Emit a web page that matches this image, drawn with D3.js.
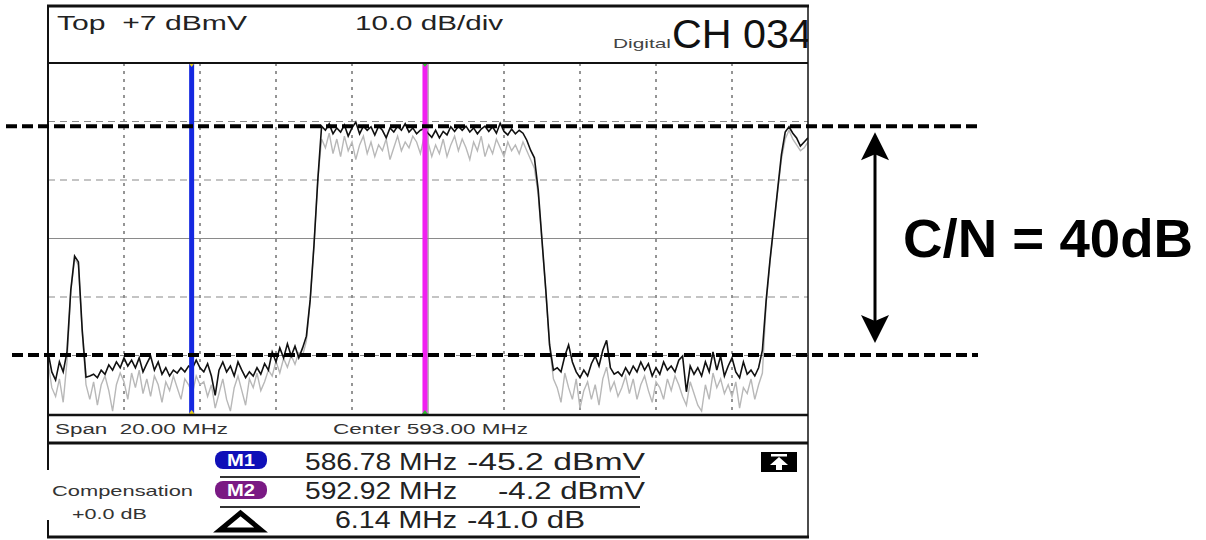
<!DOCTYPE html>
<html>
<head>
<meta charset="utf-8">
<script src="https://cdn.jsdelivr.net/npm/d3@7"></script>
<style>
  body { margin: 0; background: #fff; }
  text { font-family: "Liberation Sans", Arial, sans-serif; }
</style>
</head>
<body>
<div id="chart"></div>
<script>
// sweep: 583..603 MHz, one reading every 0.1 MHz
const freqStart = 583, freqStep = 0.1;

const blackTrace = [
  -42.4, -45.8, -47.2, -44.1, -45.8, -42.4, -31.8, -26.0, -27.0, -38.6,
  -46.7, -46.5, -46.2, -46.8, -45.5, -46.2, -44.6, -45.5, -44.1, -45.1,
  -43.4, -44.8, -43.8, -45.1, -43.4, -45.8, -44.4, -43.1, -45.5, -44.1,
  -46.2, -45.1, -46.5, -45.5, -46.0, -45.1, -45.8, -44.8, -45.2, -43.8,
  -45.1, -45.8, -44.4, -46.5, -49.8, -45.5, -44.1, -45.8, -44.8, -46.5,
  -44.1, -45.5, -46.8, -45.8, -46.5, -45.1, -46.2, -44.4, -45.5, -42.4,
  -44.1, -41.7, -43.4, -41.0, -43.1, -41.4, -43.4, -41.7, -39.7, -33.5,
  -24.1, -13.0, -3.8, -4.5, -3.4, -5.1, -4.1, -4.8, -3.6, -5.5,
  -4.1, -3.1, -5.1, -3.8, -4.5, -3.9, -5.3, -3.8, -4.5, -5.8,
  -4.1, -4.8, -3.8, -4.5, -3.4, -4.8, -4.1, -5.1, -4.5, -4.2,
  -5.0, -5.7, -4.5, -5.8, -4.7, -5.3, -3.9, -4.7, -3.8, -4.5,
  -3.8, -4.8, -4.1, -5.1, -4.3, -3.8, -4.7, -3.9, -5.0, -3.3,
  -4.7, -5.3, -4.3, -5.1, -4.5, -5.0, -6.2, -7.9, -9.2, -14.7,
  -23.3, -31.8, -41.2, -45.5, -45.1, -45.8, -43.1, -41.2, -44.1, -45.8,
  -46.8, -45.5, -46.5, -44.4, -43.1, -44.8, -42.1, -40.4, -45.1, -46.2,
  -45.8, -46.5, -45.1, -46.2, -44.8, -45.8, -44.1, -45.5, -44.4, -46.5,
  -45.1, -46.2, -44.1, -45.5, -44.8, -45.8, -43.8, -43.1, -49.2, -44.8,
  -46.2, -45.1, -46.5, -44.1, -45.8, -42.4, -45.5, -43.1, -46.5, -44.8,
  -43.4, -45.8, -46.8, -44.1, -46.2, -45.5, -46.5, -45.1, -42.1, -33.5,
  -26.7, -20.7, -14.7, -8.7, -4.8, -3.9, -5.0, -5.8, -7.2, -6.5,
  -5.8
];

const grayTrace = [
  -44.0, -48.5, -50.0, -47.0, -51.0, -44.0, -32.0, -26.5, -27.5, -39.0,
  -48.0, -50.5, -47.5, -51.5, -48.0, -46.5, -49.0, -52.5, -48.0, -46.0,
  -47.5, -50.5, -46.0, -48.5, -45.5, -49.5, -47.0, -50.0, -46.5, -48.0,
  -51.0, -47.5, -49.0, -46.5, -48.5, -50.5, -47.0, -48.0, -49.5, -46.5,
  -48.0, -47.5, -50.0, -48.0, -52.0, -49.5, -47.0, -50.5, -52.5, -48.5,
  -46.5, -49.0, -51.5, -47.0, -48.5, -46.0, -49.0, -47.5, -45.5, -46.5,
  -44.0, -46.0, -43.5, -45.0, -43.0, -44.5, -42.5, -43.0, -40.5, -33.5,
  -24.1, -13.0, -6.0, -7.5, -5.0, -8.5, -6.0, -9.0, -5.5, -8.0,
  -6.5, -9.5, -7.0, -5.5, -8.5, -6.5, -9.0, -7.0, -8.0, -6.0,
  -9.5, -7.5, -5.5, -8.0, -6.5, -7.5, -5.5, -6.5, -8.5, -5.5,
  -6.5, -9.0, -7.0, -8.5, -6.0, -9.0, -7.0, -5.5, -8.0, -6.0,
  -7.5, -9.5, -6.5, -8.0, -5.5, -9.0, -7.0, -8.5, -6.0, -7.5,
  -9.0, -6.5, -8.0, -7.0, -8.5, -6.5, -8.0, -9.5, -11.0, -15.5,
  -23.5, -32.0, -41.5, -47.0, -48.5, -51.0, -46.0, -48.5, -50.5, -47.0,
  -52.0, -49.0, -47.5, -50.5, -48.0, -51.5, -47.0, -45.0, -49.0, -47.5,
  -50.0, -48.5, -46.5, -49.5, -47.0, -50.5, -48.0, -46.5, -49.0, -51.0,
  -47.5, -48.5, -50.5, -47.0, -49.0, -46.5, -48.0, -50.0, -51.5, -47.5,
  -49.5, -51.5, -52.5, -48.0, -50.5, -46.0, -48.5, -47.0, -49.5, -48.0,
  -50.0, -47.5, -52.0, -48.5, -49.5, -47.0, -50.5, -48.0, -46.0, -34.0,
  -27.0, -21.0, -15.0, -9.5, -6.0, -4.5, -6.0, -7.0, -8.0, -7.5,
  -6.5
];

const gridFreqs = [585, 587, 589, 591, 593, 595, 597, 599, 601];
const gridLevels = [-3, -13, -23, -33, -43];
const markerFreqs = [586.78, 592.92];
const refLevels = [-3.8, -42.9];   // carrier top / noise floor
const readoutFreqs = ["586.78 MHz", "592.92 MHz", "6.14 MHz"];
const readoutLevels = ["-45.2 dBmV", "-4.2 dBmV", "-41.0 dB"];

const W = 1206, H = 540;
const L = 48, R = 808, T = 63, B = 414;

const svg = d3.select("#chart").append("svg")
    .attr("width", W)
    .attr("height", H);

const x = d3.scaleLinear().domain([583, 603]).range([L, R]);
const y = d3.scaleLinear().domain([-53, 7]).range([B, T]);

svg.append("defs").append("clipPath").attr("id", "plotClip")
    .append("rect").attr("x", L).attr("y", T).attr("width", R - L).attr("height", B - T);
svg.select("defs").append("clipPath").attr("id", "headClip")
    .append("rect").attr("x", L).attr("y", 5).attr("width", R - L).attr("height", 60);

// grid
svg.selectAll(".vgrid").data(gridFreqs).enter().append("line")
    .attr("x1", d => x(d)).attr("x2", d => x(d))
    .attr("y1", T).attr("y2", B)
    .attr("stroke", "#8a8a8a")
    .attr("stroke-width", d => d == 593 ? 1.2 : 1.8)
    .attr("stroke-dasharray", d => d == 593 ? null : "3,5");

svg.selectAll(".hgrid").data(gridLevels).enter().append("line")
    .attr("x1", L).attr("x2", R)
    .attr("y1", d => y(d)).attr("y2", d => y(d))
    .attr("stroke", "#8a8a8a")
    .attr("stroke-width", 1.2)
    .attr("stroke-dasharray", d => d == -23 ? null : "7,5");

// traces
const line = d3.line()
    .x((d, i) => x(freqStart + i * freqStep))
    .y(d => y(d));

const traces = svg.append("g").attr("clip-path", "url(#plotClip)");
traces.append("path").datum(grayTrace)
    .attr("d", line).attr("fill", "none")
    .attr("stroke", "#b8b8b8").attr("stroke-width", 1.4);
traces.append("path").datum(blackTrace)
    .attr("d", line).attr("fill", "none")
    .attr("stroke", "#111").attr("stroke-width", 1.6);

// markers
const markerColors = ["#1428e0", "#f020f0"];
const markerTips = ["#e8d020", "#30c030"];
markerFreqs.forEach((f, i) => {
    svg.append("line")
        .attr("x1", x(f)).attr("x2", x(f))
        .attr("y1", T).attr("y2", B)
        .attr("stroke", markerColors[i]).attr("stroke-width", 5);
    [T, B].forEach((yy, k) => {
        const dir = k == 0 ? 1 : -1;
        svg.append("path")
            .attr("d", `M${x(f) - 3},${yy} L${x(f) + 3},${yy} L${x(f)},${yy + dir * 4} Z`)
            .attr("fill", markerTips[i]);
    });
});

// frame
const frame = svg.append("g").attr("stroke", "#111").attr("fill", "none");
frame.append("line").attr("x1", L - 1).attr("x2", R + 1).attr("y1", 6).attr("y2", 6).attr("stroke-width", 3);
frame.append("line").attr("x1", L).attr("x2", R).attr("y1", T).attr("y2", T).attr("stroke-width", 2);
frame.append("line").attr("x1", L).attr("x2", R).attr("y1", B + 1).attr("y2", B + 1).attr("stroke-width", 2.5);
frame.append("line").attr("x1", L).attr("x2", R).attr("y1", 443).attr("y2", 443).attr("stroke-width", 3);
frame.append("line").attr("x1", L - 1).attr("x2", R + 1).attr("y1", 537).attr("y2", 537).attr("stroke-width", 3);
frame.append("line").attr("x1", L).attr("x2", L).attr("y1", 5).attr("y2", 470).attr("stroke-width", 2);
frame.append("line").attr("x1", L).attr("x2", L).attr("y1", 520).attr("y2", 538).attr("stroke-width", 2);
frame.append("line").attr("x1", R).attr("x2", R).attr("y1", 5).attr("y2", 538).attr("stroke-width", 1.5);

// header
function txt(s, xx, yy, size, len, opts) {
    opts = opts || {};
    const t = svg.append("text")
        .attr("x", xx).attr("y", yy)
        .attr("font-size", size)
        .attr("fill", opts.fill || "#222")
        .attr("font-weight", opts.weight || "normal")
        .attr("text-anchor", opts.anchor || "start")
        .style("white-space", "pre")
        .text(s);
    if (len) t.attr("textLength", len).attr("lengthAdjust", "spacingAndGlyphs");
    return t;
}

txt("Top  +7 dBmV", 57, 30, 20, 190);
txt("10.0 dB/div", 355, 30, 20, 148);
txt("Digital", 613, 48, 13, 58, { fill: "#444" });
txt("CH 034", 672, 48, 41, 140, { fill: "#111" }).attr("clip-path", "url(#headClip)");

txt("Span  20.00 MHz", 55, 434, 14, 173, { fill: "#333" });
txt("Center 593.00 MHz", 333, 434, 14, 195, { fill: "#333" });

// readout panel
txt("Compensation", 52, 496, 15, 141, { fill: "#333" });
txt("+0.0 dB", 72, 519, 15, 75, { fill: "#333" });

const badgeColors = ["#1010b8", "#7a1a84"];
const badgeNames = ["M1", "M2"];
[451, 481].forEach((yy, i) => {
    svg.append("rect")
        .attr("x", 215).attr("y", yy).attr("width", 52).attr("height", 18)
        .attr("rx", 8).attr("fill", badgeColors[i]);
    txt(badgeNames[i], 241, yy + 14.5, 16, 28, { fill: "#fff", weight: "bold", anchor: "middle" });
});
svg.append("path")
    .attr("d", "M220,530 L261,530 L240.5,513 Z")
    .attr("fill", "none").attr("stroke", "#000").attr("stroke-width", 5)
    .attr("stroke-linejoin", "miter");

[477, 507].forEach(yy => {
    svg.append("line").attr("x1", 220).attr("x2", 640)
        .attr("y1", yy).attr("y2", yy)
        .attr("stroke", "#333").attr("stroke-width", 2);
});

const rowBase = [470, 499, 528];
const freqLens = [152, 152, 122];
const levelLens = [178, 147, 118];
readoutFreqs.forEach((s, i) => {
    txt(s, 457, rowBase[i], 23, freqLens[i], { anchor: "end", fill: "#222" });
});
readoutLevels.forEach((s, i) => {
    txt(s, i == 2 ? 467 : 645, rowBase[i], 23, levelLens[i], { anchor: i == 2 ? "start" : "end", fill: "#222" });
});

// scroll icon
svg.append("rect").attr("x", 761).attr("y", 452).attr("width", 36).attr("height", 20).attr("fill", "#000");
svg.append("rect").attr("x", 771).attr("y", 454).attr("width", 16).attr("height", 2.5).attr("fill", "#fff");
svg.append("path").attr("d", "M779,457 L770,465 L776,465 L776,470 L782,470 L782,465 L788,465 Z").attr("fill", "#fff");

// C/N annotation
svg.selectAll(".ref").data(refLevels).enter().append("line")
    .attr("x1", (d, i) => i == 0 ? 6 : 12).attr("x2", 978)
    .attr("y1", d => y(d)).attr("y2", d => y(d))
    .attr("stroke", "#000").attr("stroke-width", 4)
    .attr("stroke-dasharray", "11,5");

const ax = 875, ayTop = y(refLevels[0]) + 6, ayBot = y(refLevels[1]) - 12;
svg.append("line").attr("x1", ax).attr("x2", ax)
    .attr("y1", ayTop + 20).attr("y2", ayBot - 20)
    .attr("stroke", "#000").attr("stroke-width", 3);
svg.append("path")
    .attr("d", `M${ax},${ayTop} L${ax + 14},${ayTop + 28} L${ax},${ayTop + 22} L${ax - 14},${ayTop + 28} Z`)
    .attr("fill", "#000");
svg.append("path")
    .attr("d", `M${ax},${ayBot} L${ax + 14},${ayBot - 28} L${ax},${ayBot - 22} L${ax - 14},${ayBot - 28} Z`)
    .attr("fill", "#000");

txt("C/N = 40dB", 903, 257, 53, 290, { fill: "#000", weight: "bold" });
</script>
</body>
</html>
